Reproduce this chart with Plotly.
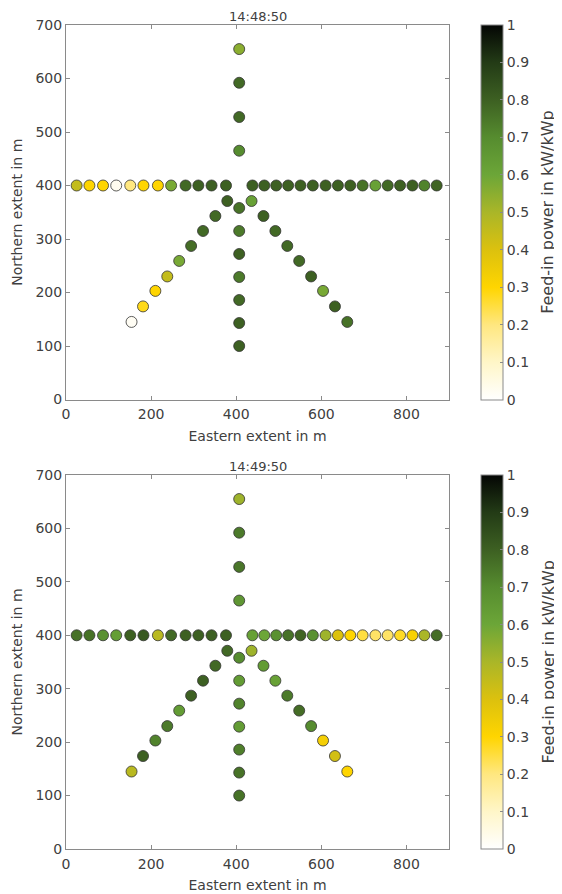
import plotly.graph_objects as go

# ---- station positions (m) ----
row_x = [25, 55, 87, 118, 151, 182, 216, 247, 281, 311, 342, 376,
         438, 466, 494, 522, 551, 580, 610, 639, 668, 697, 727, 756, 785, 814, 842, 871]
row_y = [400] * 28
col_x = [407] * 11
col_y = [655, 592, 528, 465, 358, 315, 272, 229, 186, 143, 100]
larm_x = [154, 181, 210, 238, 266, 294, 322, 351, 379]
larm_y = [145, 174, 203, 230, 259, 287, 315, 343, 371]
rarm_x = [436, 464, 492, 520, 548, 576, 604, 632, 661]
rarm_y = [371, 343, 315, 287, 259, 230, 203, 174, 145]

# ---- feed-in power (kW/kWp) at 14:48:50 ----
t1_row = [0.45, 0.3, 0.3, 0.03, 0.2, 0.3, 0.3, 0.58, 0.78, 0.8, 0.8, 0.8,
          0.8, 0.8, 0.8, 0.8, 0.8, 0.8, 0.8, 0.8, 0.8, 0.76, 0.62, 0.78, 0.8, 0.8, 0.72, 0.79]
t1_col = [0.55, 0.78, 0.78, 0.7, 0.76, 0.74, 0.8, 0.74, 0.78, 0.8, 0.8]
t1_larm = [0.02, 0.28, 0.3, 0.45, 0.58, 0.77, 0.78, 0.78, 0.8]
t1_rarm = [0.62, 0.8, 0.78, 0.78, 0.78, 0.8, 0.58, 0.8, 0.76]

# ---- feed-in power (kW/kWp) at 14:49:50 ----
t2_row = [0.76, 0.76, 0.68, 0.63, 0.8, 0.82, 0.47, 0.78, 0.8, 0.8, 0.8, 0.8,
          0.62, 0.6, 0.68, 0.76, 0.79, 0.68, 0.52, 0.4, 0.3, 0.25, 0.22, 0.22, 0.27, 0.32, 0.5, 0.77]
t2_col = [0.52, 0.74, 0.75, 0.66, 0.7, 0.64, 0.72, 0.64, 0.73, 0.76, 0.76]
t2_larm = [0.47, 0.8, 0.72, 0.74, 0.64, 0.8, 0.8, 0.78, 0.78]
t2_rarm = [0.52, 0.64, 0.62, 0.74, 0.77, 0.7, 0.33, 0.42, 0.3]

titles = ["14:48:50", "14:49:50"]
x_ticks = [0, 200, 400, 600, 800]
y_ticks = [0, 100, 200, 300, 400, 500, 600, 700]

colorscale = [
    [0.0, "#FFFFFF"], [0.1, "#FFF6C8"], [0.2, "#FFE780"], [0.3, "#FFD500"],
    [0.4, "#DCC10E"], [0.5, "#AAB628"], [0.6, "#6CA638"], [0.7, "#568C2F"],
    [0.8, "#3D6022"], [0.9, "#233B16"], [1.0, "#040604"],
]

X = row_x + col_x + larm_x + rarm_x
Y = row_y + col_y + larm_y + rarm_y
V = [t1_row + t1_col + t1_larm + t1_rarm, t2_row + t2_col + t2_larm + t2_rarm]

OFF = 8                       # page body margin of the browser
W, H = 562 - OFF, 894 - OFF
L, R, T, B = 66 - OFF, 449.3 - OFF, 25 - OFF, 849 - OFF   # plot-area box in pixels
PW, PH = R - L, B - T
FONT = "DejaVu Sans"
TXT = "#404040"
AX = "#8a8a8a"


def py(p):  # reference pixel row -> fraction of plot area
    return (B - (p - OFF)) / PH


def px(p):  # reference pixel column -> fraction of plot area
    return ((p - OFF) - L) / PW


fig = go.Figure()
panels = [(25, 399.5), (475, 849)]
for i, (top, bot) in enumerate(panels):
    xa = "x" if i == 0 else "x2"
    ya = "y" if i == 0 else "y2"
    ca = "coloraxis" if i == 0 else "coloraxis2"
    fig.add_trace(go.Scatter(
        x=X, y=Y, mode="markers", xaxis=xa, yaxis=ya,
        marker=dict(size=11, color=V[i], coloraxis=ca,
                    line=dict(width=0.8, color="#333333")),
        showlegend=False, hoverinfo="skip"))
    axis_common = dict(showgrid=False, zeroline=False, showline=True, linecolor=AX,
                       linewidth=1, mirror="ticks", ticks="inside", ticklen=4,
                       tickcolor=AX, automargin=False,
                       tickfont=dict(family=FONT, size=14, color=TXT))
    xkey = "xaxis" if i == 0 else "xaxis2"
    ykey = "yaxis" if i == 0 else "yaxis2"
    fig.update_layout({
        xkey: dict(domain=[0, 1], range=[0, 900], tickvals=x_ticks, anchor=ya,
                   ticklabelstandoff=2,
                   title=dict(text="Eastern extent in m", standoff=9,
                              font=dict(family=FONT, size=14, color=TXT)),
                   **axis_common),
        ykey: dict(domain=[py(bot), py(top)], range=[0, 700], tickvals=y_ticks,
                   anchor=xa,
                   title=dict(text="Northern extent in m", standoff=9,
                              font=dict(family=FONT, size=14, color=TXT)),
                   **axis_common),
        ca: dict(cmin=0, cmax=1, colorscale=colorscale,
                 colorbar=dict(x=px(481), xanchor="left", xpad=0, ypad=0,
                               y=py((top + bot) / 2), yanchor="middle",
                               len=(bot - top) / PH, lenmode="fraction",
                               thickness=22, thicknessmode="pixels",
                               outlinecolor=AX, outlinewidth=1,
                               tick0=0, dtick=0.1, ticks="inside", ticklen=3,
                               tickcolor=AX,
                               tickfont=dict(family=FONT, size=14, color=TXT))),
    })
    fig.add_annotation(text=titles[i], xref="paper", yref="paper",
                       x=0.5, y=py(top), yanchor="bottom",
                       yshift=-1, showarrow=False,
                       font=dict(family=FONT, size=13, color=TXT))
    fig.add_annotation(text="Feed-in power in kW/kWp", xref="paper", yref="paper",
                       x=px(548), y=py((top + bot) / 2), xanchor="center",
                       yanchor="middle", textangle=-90, showarrow=False,
                       font=dict(family=FONT, size=16, color=TXT))

fig.update_layout(width=W, height=H,
                  margin=dict(l=L, r=W - R, t=T, b=H - B, autoexpand=False),
                  paper_bgcolor="white", plot_bgcolor="white")
fig.write_html("out.html")
